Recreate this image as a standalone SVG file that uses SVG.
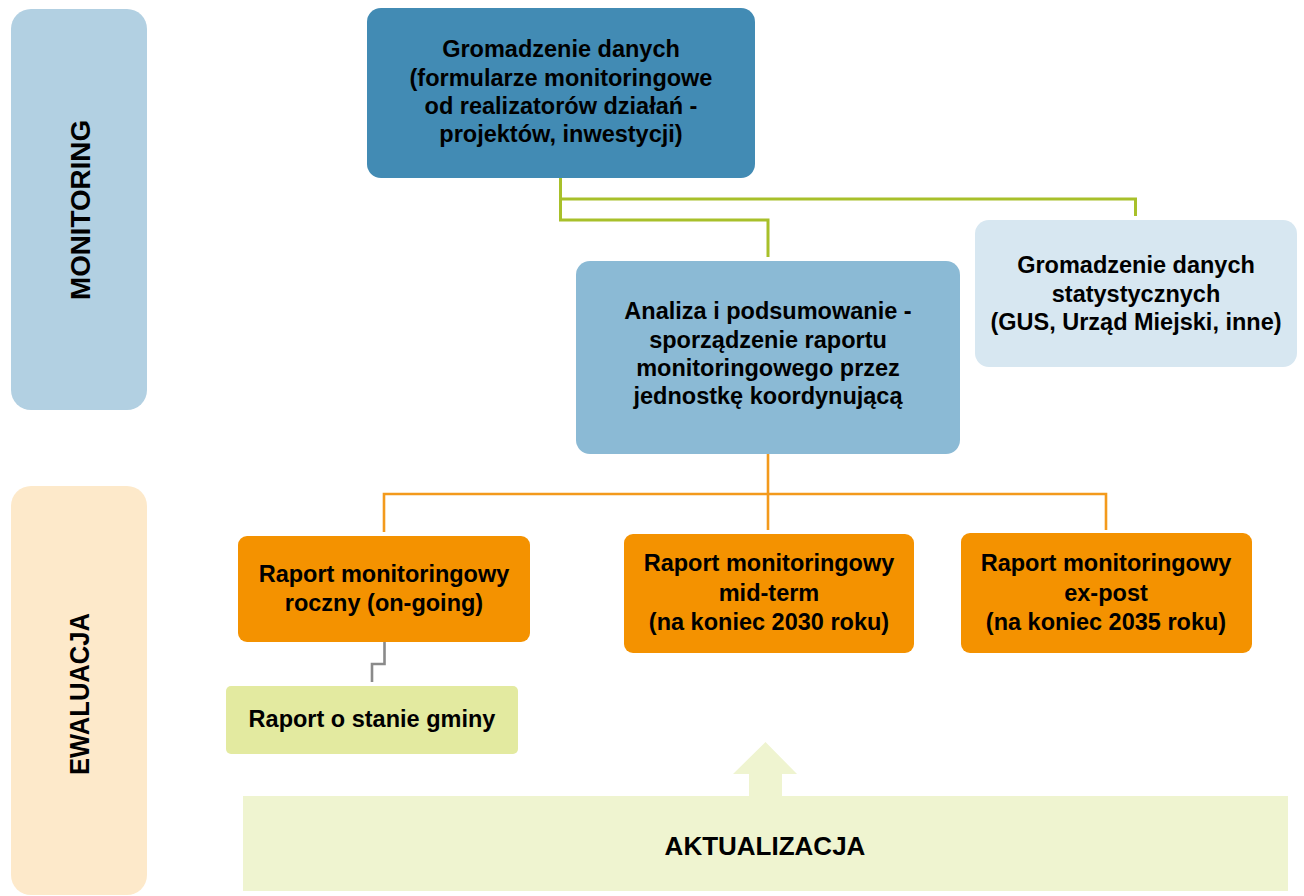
<svg xmlns="http://www.w3.org/2000/svg" width="1304" height="896" viewBox="0 0 1304 896">
<style>
  .t { font-family: "Liberation Sans", Arial, sans-serif; font-weight: bold; font-size: 23.5px; fill: #000; text-anchor: middle; }
  .side { font-family: "Liberation Sans", Arial, sans-serif; font-weight: bold; font-size: 27px; fill: #000; text-anchor: middle; }
  .big { font-family: "Liberation Sans", Arial, sans-serif; font-weight: bold; font-size: 26px; fill: #000; text-anchor: middle; }
  .green { fill: none; stroke: #a8c02a; stroke-width: 3; }
  .orange { fill: none; stroke: #f39a1c; stroke-width: 2.6; }
  .gray { fill: none; stroke: #8a8a8a; stroke-width: 2.6; }
</style>
<rect width="1304" height="896" fill="#ffffff"/>

<g id="monitoring-band">
  <rect x="11" y="9" width="136" height="401" rx="20" ry="20" fill="#b2d0e2"/>
  <text class="side" transform="translate(90,210) rotate(-90)" textLength="180" lengthAdjust="spacingAndGlyphs">MONITORING</text>
</g>
<g id="ewaluacja-band">
  <rect x="11" y="486" width="136" height="409" rx="20" ry="20" fill="#fde9ca"/>
  <text class="side" transform="translate(89,694) rotate(-90)" textLength="162" lengthAdjust="spacingAndGlyphs">EWALUACJA</text>
</g>

<g id="connectors">
  <path class="green" d="M560.5,178 V220 H768 V257"/>
  <path class="green" d="M560.5,199 H1135.5 V216"/>
  <path class="orange" d="M768,454 V530"/>
  <path class="orange" d="M384,532 V494 H1106 V530"/>
  <path class="gray" d="M384.5,642 V664 H372 V682"/>
</g>

<g id="gromadzenie-danych">
  <rect x="367" y="8" width="388" height="170" rx="14" ry="14" fill="#428bb4"/>
  <text class="t" x="561" y="57">Gromadzenie danych</text>
  <text class="t" x="561" y="86">(formularze monitoringowe</text>
  <text class="t" x="561" y="114">od realizatorów działań -</text>
  <text class="t" x="561" y="142">projektów, inwestycji)</text>
</g>

<g id="analiza">
  <rect x="576" y="261" width="384" height="193" rx="14" ry="14" fill="#8bbad5"/>
  <text class="t" x="768" y="319">Analiza i podsumowanie -</text>
  <text class="t" x="768" y="348">sporządzenie raportu</text>
  <text class="t" x="768" y="376">monitoringowego przez</text>
  <text class="t" x="768" y="404">jednostkę koordynującą</text>
</g>

<g id="dane-statystyczne">
  <rect x="975" y="220" width="322" height="147" rx="14" ry="14" fill="#d7e7f1"/>
  <text class="t" x="1136" y="273">Gromadzenie danych</text>
  <text class="t" x="1136" y="302">statystycznych</text>
  <text class="t" x="1136" y="330">(GUS, Urząd Miejski, inne)</text>
</g>

<g id="raport-roczny">
  <rect x="238" y="536" width="292" height="106" rx="9" ry="9" fill="#f49200"/>
  <text class="t" x="384" y="582">Raport monitoringowy</text>
  <text class="t" x="384" y="611">roczny (on-going)</text>
</g>

<g id="raport-mid-term">
  <rect x="624" y="534" width="290" height="119" rx="9" ry="9" fill="#f49200"/>
  <text class="t" x="769" y="571">Raport monitoringowy</text>
  <text class="t" x="769" y="601">mid-term</text>
  <text class="t" x="769" y="630">(na koniec 2030 roku)</text>
</g>

<g id="raport-ex-post">
  <rect x="961" y="533" width="291" height="120" rx="9" ry="9" fill="#f49200"/>
  <text class="t" x="1106" y="571">Raport monitoringowy</text>
  <text class="t" x="1106" y="601">ex-post</text>
  <text class="t" x="1106" y="630">(na koniec 2035 roku)</text>
</g>

<g id="raport-o-stanie-gminy">
  <rect x="226" y="686" width="292" height="68" rx="5" ry="5" fill="#e3eaa0"/>
  <text class="t" x="372" y="727">Raport o stanie gminy</text>
</g>

<g id="aktualizacja">
  <path d="M243,796 H749 V774 H733 L765.5,742 L797,774 H782 V796 H1288 V891 H243 Z" fill="#eff4d0"/>
  <text class="big" x="765" y="855">AKTUALIZACJA</text>
</g>
</svg>
